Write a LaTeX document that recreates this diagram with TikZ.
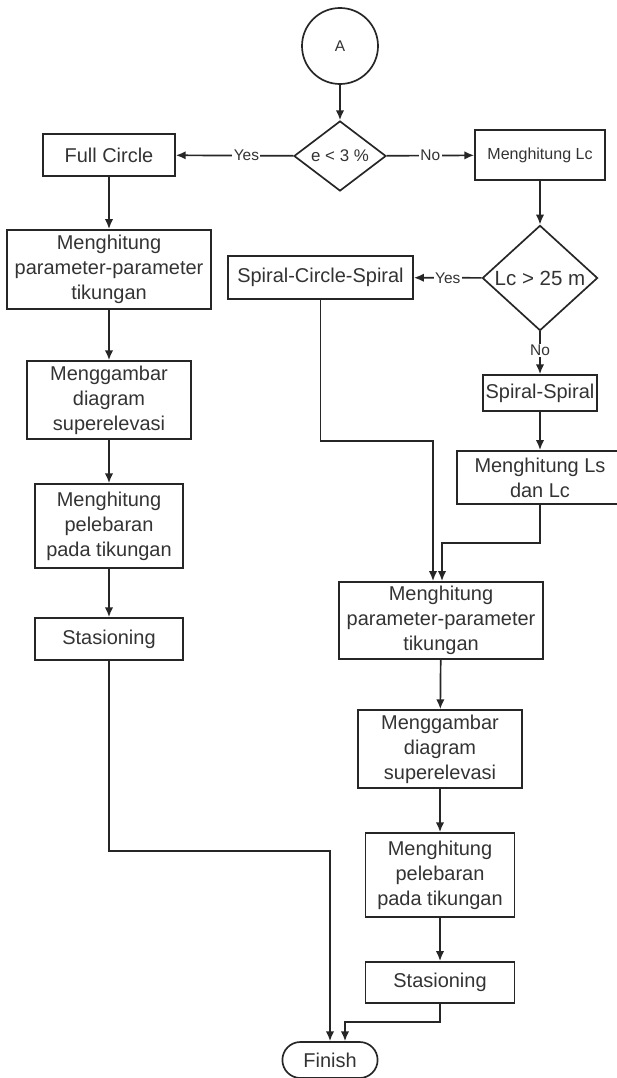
\documentclass[tikz,border=0pt]{standalone}
\usepackage{fontspec}
\setmainfont{Liberation Sans}
\usetikzlibrary{positioning, arrows.meta, shapes.geometric, calc}

\begin{document}
\begin{tikzpicture}[
    x=0.025cm, y=-0.025cm,
    box/.style={rectangle, draw=black!85, line width=1.2pt, align=center, inner sep=2pt,
                text=black!80, font=\fontsize{14.2}{17.8}\selectfont},
    decision/.style={diamond, draw=black!85, line width=1.2pt, inner sep=0pt, align=center,
                text=black!80},
    lbl/.style={fill=white, inner sep=1pt, text=black!80, font=\fontsize{11}{13}\selectfont},
    flow/.style={->, draw=black!85, line width=1.2pt},
    >={Latex[length=7pt,width=6pt]}
]
\useasboundingbox (0,0) rectangle (617,1078);

\node[circle, draw=black!85, line width=1.2pt, minimum size=1.9cm, text=black!80, font=\fontsize{11}{13}\selectfont] (A) at (340,46) {A};
\node[decision, minimum width=2.3cm, minimum height=1.75cm, font=\fontsize{12}{14}\selectfont] (D1) at (340,156) {e < 3 \%};
\node[box, minimum width=3.3cm, minimum height=1.05cm] (FC) at (109,155) {Full Circle};
\node[box, minimum width=3.25cm, minimum height=1.25cm, font=\fontsize{11.4}{14}\selectfont] (LC) at (540,155) {Menghitung Lc};

% kolom kiri
\node[box, minimum width=5.1cm, minimum height=1.98cm] (P1) at (109,269.5) {Menghitung\\parameter-parameter\\tikungan};
\node[box, minimum width=4.1cm, minimum height=1.95cm] (G1) at (109,400) {Menggambar\\diagram\\superelevasi};
\node[box, minimum width=3.7cm, minimum height=2.1cm] (W1) at (109,526) {Menghitung\\pelebaran\\pada tikungan};
\node[box, minimum width=3.7cm, minimum height=1.05cm] (S1) at (109,639) {Stasioning};

% kolom kanan
\node[decision, minimum width=2.88cm, minimum height=2.33cm, font=\fontsize{14.6}{17}\selectfont] (D2) at (540,278) {Lc > 25 m};
\node[box, minimum width=4.63cm, minimum height=1.08cm] (SCS) at (320.5,277.5) {Spiral-Circle-Spiral};
\node[box, minimum width=2.85cm, minimum height=0.9cm] (SS) at (540,393) {Spiral-Spiral};
\node[box, minimum width=4.15cm, minimum height=1.33cm] (LS) at (540,477.5) {Menghitung Ls\\dan Lc};
\node[box, minimum width=5.1cm, minimum height=1.93cm] (P2) at (441,620.5) {Menghitung\\parameter-parameter\\tikungan};
\node[box, minimum width=4.1cm, minimum height=1.95cm] (G2) at (440,749) {Menggambar\\diagram\\superelevasi};
\node[box, minimum width=3.73cm, minimum height=2.1cm] (W2) at (440,875) {Menghitung\\pelebaran\\pada tikungan};
\node[box, minimum width=3.73cm, minimum height=1.03cm] (S2) at (440,982.5) {Stasioning};

\node[box, rounded corners=0.45cm, minimum width=2.38cm, minimum height=0.9cm] (F) at (330,1060) {Finish};

\draw[flow] (A) -- (D1);
\draw[flow] (D1) -- (FC) node[lbl, pos=0.4] {Yes};
\draw[flow] (D1) -- (LC) node[lbl, pos=0.5] {No};
\draw[flow] (FC) -- (P1);
\draw[flow] (P1) -- (G1);
\draw[flow] (G1) -- (W1);
\draw[flow] (W1) -- (S1);

\draw[flow] (LC) -- (D2);
\draw[flow] (D2) -- (SCS) node[lbl, pos=0.5] {Yes};
\draw[flow] (D2) -- (SS) node[lbl, pos=0.45] {No};
\draw[flow] (SS) -- (LS);
\draw[flow] (SCS.south) -- (SCS.south |- 0,441) -| ($(P2.north)+(-8,0)$);
\draw[flow] (LS.south) -- (LS.south |- 0,543) -| ($(P2.north)+(1,0)$);
\draw[flow] (P2) -- (G2);
\draw[flow] (G2) -- (W2);
\draw[flow] (W2) -- (S2);

\draw[flow] (S1.south) -- (S1.south |- 0,851) -| (F.north);
\draw[flow] (S2.south) -- (S2.south |- 0,1022) -| ($(F.north)+(15,0)$);
\end{tikzpicture}
\end{document}
